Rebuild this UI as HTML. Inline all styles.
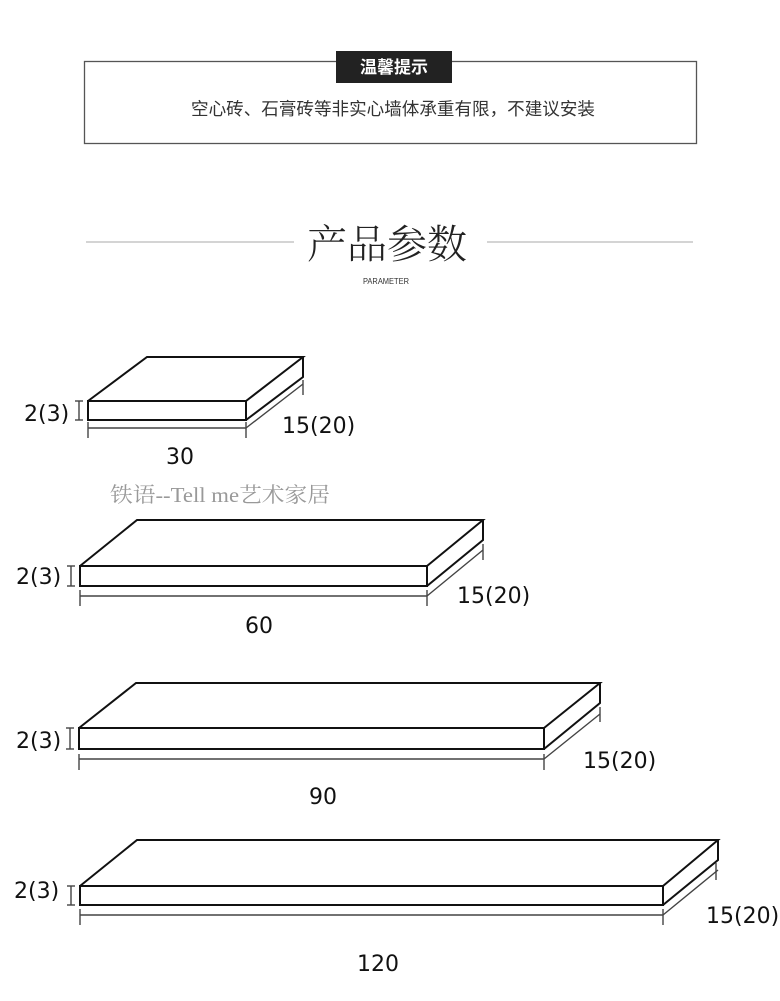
<!DOCTYPE html>
<html><head><meta charset="utf-8"><style>
html,body{margin:0;padding:0;background:#fff;width:780px;height:1001px;overflow:hidden}
svg{display:block}
.d{font-family:"DejaVu Sans","Liberation Sans",sans-serif;font-size:22px;fill:#111}
</style></head><body>
<svg width="780" height="1001" viewBox="0 0 780 1001" xmlns="http://www.w3.org/2000/svg">
<rect x="84.5" y="61.5" width="612" height="82" fill="none" stroke="#555" stroke-width="1.3"/>
<rect x="336" y="51" width="116" height="32" fill="#222"/>
<text x="394" y="73" text-anchor="middle" font-family="'Liberation Sans','Noto Sans CJK SC',sans-serif" font-size="17" font-weight="bold" fill="#fff">温馨提示</text>
<text x="393" y="115" text-anchor="middle" font-family="'Liberation Sans','Noto Sans CJK SC',sans-serif" font-size="17.5" fill="#333" textLength="404" lengthAdjust="spacingAndGlyphs">空心砖、石膏砖等非实心墙体承重有限，不建议安装</text>
<line x1="86" y1="242" x2="294" y2="242" stroke="#bbb" stroke-width="1.2"/>
<line x1="487" y1="242" x2="693" y2="242" stroke="#bbb" stroke-width="1.2"/>
<text x="387" y="258" text-anchor="middle" font-family="'Noto Serif CJK SC','Noto Sans CJK SC',serif" font-size="40" font-weight="300" fill="#222">产品参数</text>
<text x="386" y="284" text-anchor="middle" font-family="'Liberation Sans',sans-serif" font-size="8" fill="#333" textLength="46" lengthAdjust="spacingAndGlyphs">PARAMETER</text>

<g fill="none" stroke="#111" stroke-width="2">
<rect x="88" y="401" width="158" height="19"/>
<polyline points="88,401 147,357 303,357 246,401"/>
<polyline points="303,357 303,377 246,420"/>
<rect x="80" y="566" width="347" height="20"/>
<polyline points="80,566 137,520 483,520 427,566"/>
<polyline points="483,520 483,540 427,586"/>
<rect x="79" y="728" width="465" height="21"/>
<polyline points="79,728 136,683 600,683 544,728"/>
<polyline points="600,683 600,703 544,749"/>
<rect x="80" y="886" width="583" height="19"/>
<polyline points="80,886 137,840 718,840 663,886"/>
<polyline points="718,840 718,860 663,905"/>
</g>
<g fill="none" stroke="#444" stroke-width="1.4">
<line x1="88" y1="428" x2="246" y2="428"/><line x1="88" y1="422" x2="88" y2="438"/><line x1="246" y1="422" x2="246" y2="438"/>
<line x1="246" y1="428" x2="303" y2="384"/><line x1="303" y1="380" x2="303" y2="395"/>
<line x1="79" y1="401" x2="79" y2="420"/><line x1="75" y1="401" x2="83" y2="401"/><line x1="75" y1="420" x2="83" y2="420"/>
<line x1="80" y1="596" x2="427" y2="596"/><line x1="80" y1="590" x2="80" y2="606"/><line x1="427" y1="590" x2="427" y2="606"/>
<line x1="427" y1="596" x2="483" y2="550"/><line x1="483" y1="544" x2="483" y2="560"/>
<line x1="71" y1="566" x2="71" y2="586"/><line x1="67" y1="566" x2="75" y2="566"/><line x1="67" y1="586" x2="75" y2="586"/>
<line x1="79" y1="759" x2="544" y2="759"/><line x1="79" y1="754" x2="79" y2="770"/><line x1="544" y1="754" x2="544" y2="770"/>
<line x1="544" y1="759" x2="600" y2="714"/><line x1="600" y1="707" x2="600" y2="722"/>
<line x1="70" y1="728" x2="70" y2="749"/><line x1="66" y1="728" x2="74" y2="728"/><line x1="66" y1="749" x2="74" y2="749"/>
<line x1="80" y1="915" x2="663" y2="915"/><line x1="80" y1="909" x2="80" y2="925"/><line x1="663" y1="909" x2="663" y2="925"/>
<line x1="663" y1="915" x2="718" y2="870"/><line x1="716" y1="863" x2="716" y2="880"/>
<line x1="71" y1="886" x2="71" y2="905"/><line x1="67" y1="886" x2="75" y2="886"/><line x1="67" y1="905" x2="75" y2="905"/>
</g>
<text class="d" x="24" y="421">2(3)</text>
<text class="d" x="282" y="433">15(20)</text>
<text class="d" x="166" y="464">30</text>
<text x="110" y="502" font-family="'Liberation Serif','Noto Serif CJK SC',serif" font-size="21" fill="#999" textLength="220" lengthAdjust="spacingAndGlyphs">铁语--Tell me艺术家居</text>
<text class="d" x="16" y="584">2(3)</text>
<text class="d" x="457" y="603">15(20)</text>
<text class="d" x="245" y="633">60</text>
<text class="d" x="16" y="748">2(3)</text>
<text class="d" x="583" y="768">15(20)</text>
<text class="d" x="309" y="804">90</text>
<text class="d" x="14" y="898">2(3)</text>
<text class="d" x="706" y="923">15(20)</text>
<text class="d" x="357" y="971">120</text>
</svg>
</body></html>
